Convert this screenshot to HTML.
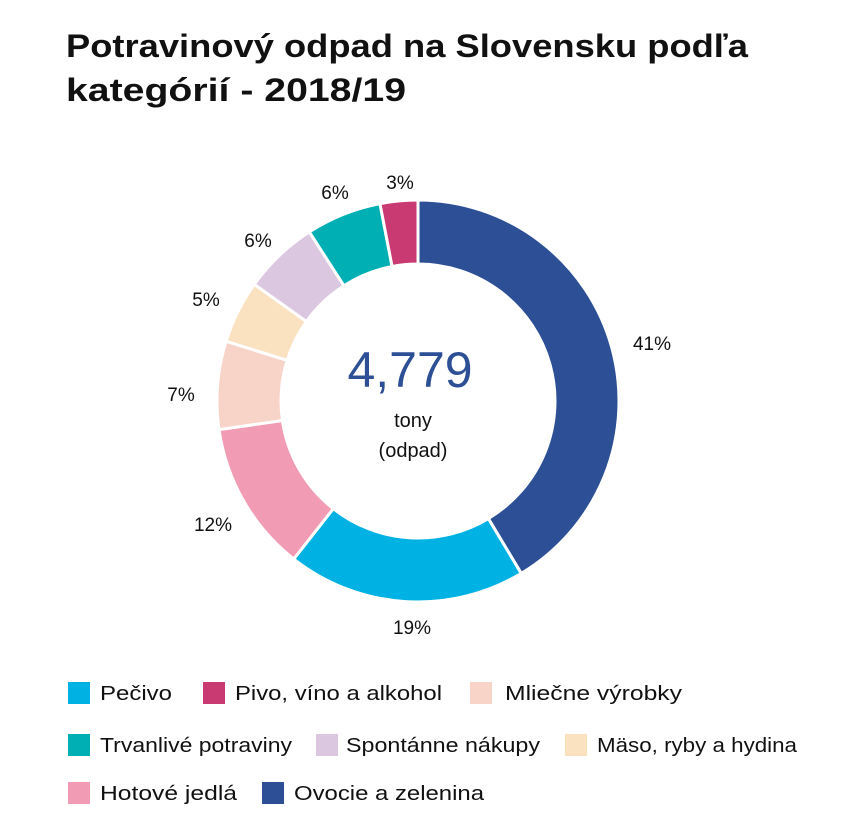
<!DOCTYPE html>
<html><head><meta charset="utf-8"><style>
body{margin:0;width:852px;height:832px;background:#fff;font-family:"Liberation Sans",sans-serif;overflow:hidden}
</style></head><body>
<svg width="852" height="832" xmlns="http://www.w3.org/2000/svg" font-family="Liberation Sans, sans-serif">
<text x="66" y="57" font-size="32" font-weight="bold" fill="#111" textLength="682" lengthAdjust="spacingAndGlyphs">Potravinový odpad na Slovensku podľa</text>
<text x="66" y="101" font-size="32" font-weight="bold" fill="#111" textLength="340" lengthAdjust="spacingAndGlyphs">kategórií  - 2018/19</text>
<g id="donut"></g>
<g font-size="19" fill="#111" text-anchor="middle">
<text x="652" y="350">41%</text>
<text x="412" y="634">19%</text>
<text x="213" y="531">12%</text>
<text x="181" y="401">7%</text>
<text x="206" y="306">5%</text>
<text x="258" y="247">6%</text>
<text x="335" y="199">6%</text>
<text x="400" y="189">3%</text>
</g>
<text x="410" y="387" font-size="50" fill="#2c4f96" text-anchor="middle">4,779</text>
<text x="413" y="427" font-size="20" fill="#111" text-anchor="middle">tony</text>
<text x="413" y="457" font-size="20" fill="#111" text-anchor="middle">(odpad)</text>
<g font-size="20" fill="#111">
<rect x="68" y="682" width="22" height="22" fill="#00b2e3"/><text x="100" y="700" textLength="72" lengthAdjust="spacingAndGlyphs">Pečivo</text>
<rect x="203" y="682" width="22" height="22" fill="#c93a73"/><text x="235" y="700" textLength="207" lengthAdjust="spacingAndGlyphs">Pivo, víno a alkohol</text>
<rect x="470" y="682" width="22" height="22" fill="#f7d3c8"/><text x="505" y="700" textLength="177" lengthAdjust="spacingAndGlyphs">Mliečne výrobky</text>
<rect x="68" y="734" width="22" height="22" fill="#00afb4"/><text x="100" y="752" textLength="192" lengthAdjust="spacingAndGlyphs">Trvanlivé potraviny</text>
<rect x="316" y="734" width="22" height="22" fill="#dcc7e0"/><text x="346" y="752" textLength="194" lengthAdjust="spacingAndGlyphs">Spontánne nákupy</text>
<rect x="565" y="734" width="22" height="22" fill="#fae2c1"/><text x="597" y="752" textLength="200" lengthAdjust="spacingAndGlyphs">Mäso, ryby a hydina</text>
<rect x="68" y="782" width="22" height="22" fill="#f19bb5"/><text x="100" y="800" textLength="137" lengthAdjust="spacingAndGlyphs">Hotové jedlá</text>
<rect x="262" y="782" width="22" height="22" fill="#2c4f96"/><text x="294" y="800" textLength="190" lengthAdjust="spacingAndGlyphs">Ovocie a zelenina</text>
</g>
</svg>
<script>
var segs=[[41,"#2c4f96"],[19,"#00b2e3"],[12,"#f19bb5"],[7,"#f7d3c8"],[5,"#fae2c1"],[6,"#dcc7e0"],[6,"#00afb4"],[3,"#c93a73"]];
var tot=99,cx=418,cy=401,R=201,r=137,a=0,h="";
function p(rad,ang){return [cx+rad*Math.sin(ang),cy-rad*Math.cos(ang)];}
segs.forEach(function(s){var a0=a/tot*2*Math.PI;a+=s[0];var a1=a/tot*2*Math.PI;var l=(a1-a0)>Math.PI?1:0;
var A=p(R,a0),B=p(R,a1),C=p(r,a1),D=p(r,a0);
h+='<path d="M'+A+' A'+R+','+R+' 0 '+l+' 1 '+B+' L'+C+' A'+r+','+r+' 0 '+l+' 0 '+D+' Z" fill="'+s[1]+'" stroke="#fff" stroke-width="3"/>';});
document.getElementById("donut").innerHTML=h;
</script>
</body></html>
